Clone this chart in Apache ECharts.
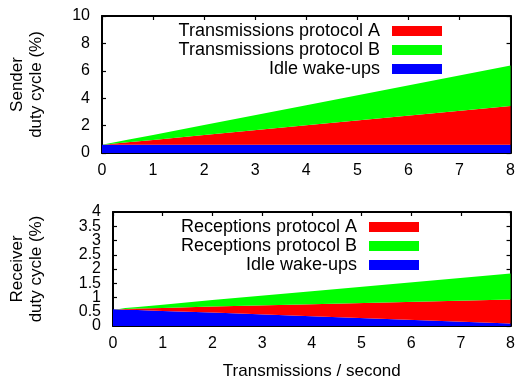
<!DOCTYPE html>
<html>
<head>
<meta charset="utf-8">
<script src="https://cdn.jsdelivr.net/npm/echarts@6/dist/echarts.min.js"></script>
<style>
  html, body { margin: 0; padding: 0; background: #fff; }
  #container { width: 518px; height: 381px; }
  #log { position: absolute; left: 0; top: 0; font: 9px monospace; color: #c00; white-space: pre-wrap; width: 518px; }
</style>
</head>
<body>
<div id="container"></div>
<div id="log"></div>
<script>
// show any library error on the page instead of failing silently
const logEl = document.getElementById('log');
window.onerror = (m) => { logEl.textContent += 'ERR ' + m + '\n'; };
console.error = function () { logEl.textContent += 'CE ' + Array.from(arguments).join(' ').slice(0, 200) + '\n'; };

// transmissions per second (sample points of the sweep)
const rates = [0, 0.125, 0.25, 0.5, 1, 2, 4, 8];

// sender duty cycle (%), stacked parts
const sendIdle = [0.6, 0.6, 0.6, 0.6, 0.6, 0.6, 0.6, 0.6];
const sendA = [0, 0.04, 0.09, 0.18, 0.35, 0.71, 1.42, 2.83];
const sendB = [0, 0.05, 0.09, 0.18, 0.37, 0.73, 1.47, 2.95];

// receiver duty cycle (%), stacked parts
const recvIdle = [0.59, 0.58, 0.57, 0.56, 0.53, 0.47, 0.34, 0.09];
const recvA = [0, 0.01, 0.03, 0.05, 0.105, 0.21, 0.42, 0.84];
const recvB = [0, 0.01, 0.03, 0.06, 0.11, 0.23, 0.46, 0.91];

const sendNames = ['Transmissions protocol A', 'Transmissions protocol B', 'Idle wake-ups'];
const recvNames = ['Receptions protocol A', 'Receptions protocol B', 'Idle wake-ups'];

const FONT = '"Liberation Sans", Arial, Helvetica, sans-serif';
const RED = '#ff0000', GREEN = '#00ff00', BLUE = '#0000ff';

// value first so the stack goes on the duty cycle, not on the rate
const pairs = arr => rates.map((x, i) => [arr[i], x]);

function area(name, arr, color, xi, yi, stack) {
    return {
        name: name,
        type: 'line',
        xAxisIndex: xi,
        yAxisIndex: yi,
        stack: stack,
        data: pairs(arr),
        encode: { x: 1, y: 0 },
        symbol: 'none',
        itemStyle: { color: color },
        lineStyle: { width: 0, color: color },
        areaStyle: { color: color, opacity: 1 },
        silent: true,
    };
}

function axisBits(show, margin) {
    return {
        axisLine: { show: true, onZero: false, lineStyle: { color: '#000', width: 2 } },
        axisTick: { show: true, inside: true, length: 4, lineStyle: { color: '#000', width: 1.2 } },
        splitLine: { show: false },
        axisLabel: { show: show, margin: margin, color: '#000', fontSize: 16, fontFamily: FONT },
    };
}

function xAx(grid, pos, show) {
    return Object.assign({
        type: 'value', gridIndex: grid, position: pos,
        min: 0, max: 8, interval: 1,
    }, axisBits(show, 10));
}
function yAx(grid, pos, show, max, step) {
    return Object.assign({
        type: 'value', gridIndex: grid, position: pos,
        min: 0, max: max, interval: step,
    }, axisBits(show, 12));
}

const myChart = echarts.init(document.getElementById('container'));

const xAxes = [xAx(0, 'bottom', true), xAx(0, 'top', false), xAx(1, 'bottom', true), xAx(1, 'top', false)];
xAxes[2].name = 'Transmissions / second';
xAxes[2].nameLocation = 'middle';
xAxes[2].nameGap = 37;
xAxes[2].nameTextStyle = { color: '#000', fontSize: 17, fontFamily: FONT };

const yAxes = [yAx(0, 'left', true, 10, 2), yAx(0, 'right', false, 10, 2),
               yAx(1, 'left', true, 4, 0.5), yAx(1, 'right', false, 4, 0.5)];
yAxes[0].name = 'Sender\nduty cycle (%)';
yAxes[2].name = 'Receiver\nduty cycle (%)';
[0, 2].forEach(i => {
    yAxes[i].nameLocation = 'middle';
    yAxes[i].nameRotate = 90;
    yAxes[i].nameTextStyle = { color: '#000', fontSize: 17, fontFamily: FONT, lineHeight: 19 };
});
yAxes[0].nameGap = 56;
yAxes[2].nameGap = 67;

// the crowded receiver axis drops its end labels, so a bare helper axis prints 0 and 4
const ends = yAx(1, 'left', true, 4, 4);
ends.axisLine = { show: false, onZero: false };
ends.axisTick = { show: false };
yAxes.push(ends);

function legend(names, right, top) {
    return {
        data: names,
        orient: 'vertical',
        align: 'right',
        right: right,
        top: top,
        padding: 0,
        itemGap: 1,
        itemWidth: 50,
        itemHeight: 10,
        icon: 'rect',
        selectedMode: false,
        textStyle: { color: '#000', fontSize: 18, fontFamily: FONT, padding: [0, 7, 0, 0] },
    };
}

const option = {
    animation: false,
    grid: [
        { left: 100, top: 16, width: 412, height: 137 },
        { left: 111, top: 212, width: 401, height: 115 },
    ],
    legend: [legend(sendNames, 76, 22), legend(recvNames, 99, 218)],
    xAxis: xAxes,
    yAxis: yAxes,
    series: [
        area(sendNames[2], sendIdle, BLUE, 0, 0, 'send'),
        area(sendNames[0], sendA, RED, 0, 0, 'send'),
        area(sendNames[1], sendB, GREEN, 0, 0, 'send'),
        area(recvNames[2], recvIdle, BLUE, 2, 2, 'recv'),
        area(recvNames[0], recvA, RED, 2, 2, 'recv'),
        area(recvNames[1], recvB, GREEN, 2, 2, 'recv'),
    ],
};
try {
    myChart.setOption(option);
} catch (e) {
    logEl.textContent += 'CATCH ' + e.message + '\n';
}
window.addEventListener('resize', () => {
    myChart.resize()
})
</script>
</body>
</html>
